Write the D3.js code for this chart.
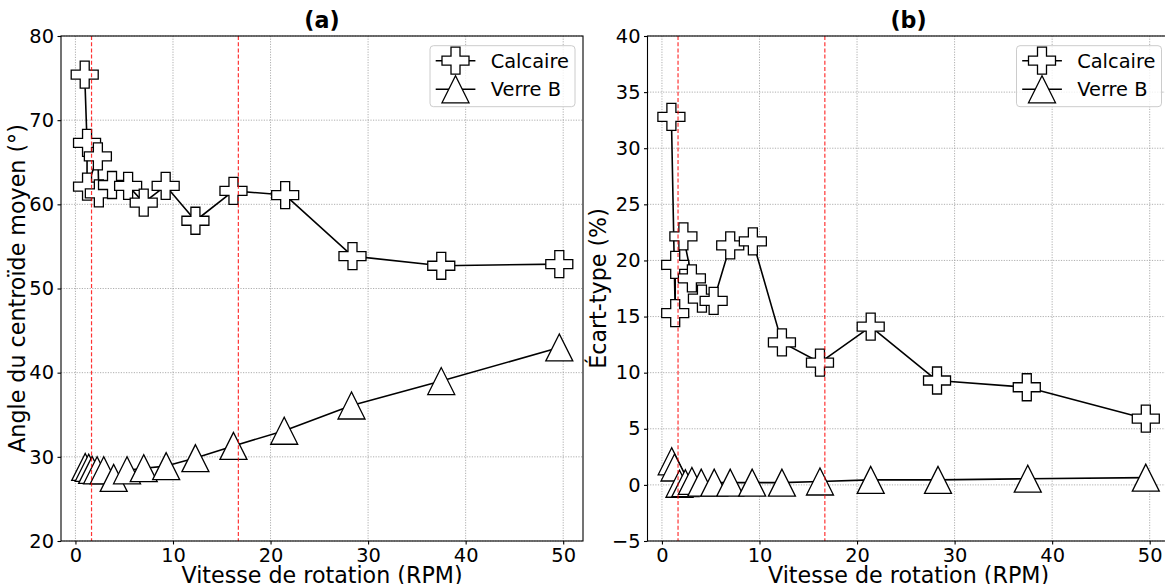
<!DOCTYPE html>
<html><head><meta charset="utf-8">
<script src="https://cdn.jsdelivr.net/npm/d3@7"></script>
<style>body{margin:0;background:#fff} svg{display:block} text{font-family:"DejaVu Sans",sans-serif;fill:#000}</style>
</head><body><svg id="c" width="1165" height="584"></svg>
<script>
// ---- data ----
const seriesNames = ["Calcaire", "Verre B"];
// panel (a): angle du centroïde moyen (°)
const rpmCalcaireA = [0.95, 1.19, 1.19, 2.3, 2.4, 3.75, 5.4, 7.0, 9.25, 12.3, 16.2, 21.5, 28.4, 37.5, 49.6];
const angleCalcaire = [75.4, 67.3, 62.1, 65.7, 61.3, 62.3, 62.2, 60.2, 62.2, 58.05, 61.6, 61.1, 53.85, 52.7, 52.9];
const rpmVerreA = [1.0, 1.36, 1.71, 2.22, 2.9, 3.92, 5.29, 7.0, 9.3, 12.3, 16.2, 21.4, 28.3, 37.5, 49.6];
const angleVerre = [28.8, 28.7, 28.45, 28.4, 28.4, 27.5, 28.4, 28.65, 28.9, 29.85, 31.3, 33.1, 36.1, 39.0, 43.0];
// panel (b): écart-type (%)
const rpmCalcaireB = [0.97, 1.36, 1.36, 2.2, 3.07, 4.1, 5.3, 7.0, 9.32, 12.3, 16.2, 21.4, 28.2, 37.4, 49.6];
const ecartCalcaire = [32.8, 15.3, 19.6, 22.15, 18.4, 16.6, 16.4, 21.35, 21.7, 12.7, 10.9, 14.1, 9.3, 8.7, 5.9];
const rpmVerreB = [1.0, 1.29, 1.8, 2.4, 3.07, 4.03, 5.36, 7.0, 9.25, 12.3, 16.2, 21.4, 28.3, 37.5, 49.6];
const ecartVerre = [2.1, 1.55, 0.1, 0.15, 0.35, 0.2, 0.2, 0.2, 0.2, 0.2, 0.3, 0.45, 0.45, 0.55, 0.65];
// ticks, reference lines
const xTicks = [0, 10, 20, 30, 40, 50];
const yTicksA = [20, 30, 40, 50, 60, 70, 80];
const yTicksB = [-5, 0, 5, 10, 15, 20, 25, 30, 35, 40];
const refLines = [1.65, 16.7];
const titles = ["(a)", "(b)"];
const xLabel = "Vitesse de rotation (RPM)";
const yLabels = ["Angle du centroïde moyen (°)", "Écart-type (%)"];

// ---- drawing ----
const svg = d3.select("#c");
const S = 27, h = S / 2, a = S / 6;
const crossPath = `M${-a},${-h}L${a},${-h}L${a},${-a}L${h},${-a}L${h},${a}L${a},${a}L${a},${h}L${-a},${h}L${-a},${a}L${-h},${a}L${-h},${-a}L${-a},${-a}Z`;
const triPath = `M0,${-h}L${-h},${h}L${h},${h}Z`;
const markers = [crossPath, triPath];
const TF = 19.4, LF = 22.2;

function panel(cfg) {
  const g = svg.append("g");
  const x = d3.scaleLinear().domain([-1.48, 52.03]).range([cfg.left, cfg.left + 522]);
  const y = d3.scaleLinear().domain(cfg.ydom).range([541, 36]);
  const [x0, x1] = x.range(), [y0, y1] = y.range();
  // grid
  g.append("g").selectAll("line").data(xTicks).join("line")
    .attr("x1", d => x(d)).attr("x2", d => x(d)).attr("y1", y1).attr("y2", y0)
    .attr("stroke", "#9a9a9a").attr("stroke-width", 0.8).attr("stroke-dasharray", "1.2,1.4");
  g.append("g").selectAll("line").data(cfg.yTicks).join("line")
    .attr("x1", x0).attr("x2", x1).attr("y1", d => y(d)).attr("y2", d => y(d))
    .attr("stroke", "#9a9a9a").attr("stroke-width", 0.8).attr("stroke-dasharray", "1.2,1.4");
  // series
  const clipId = "clip" + cfg.id;
  svg.append("clipPath").attr("id", clipId).append("rect")
    .attr("x", x0).attr("y", y1).attr("width", x1 - x0).attr("height", y0 - y1);
  const plot = g.append("g").attr("clip-path", `url(#${clipId})`);
  const line = d3.line().x(d => x(d[0])).y(d => y(d[1]));
  cfg.series.forEach((s, i) => {
    const pts = s.xs.map((v, k) => [v, s.ys[k]]);
    plot.append("path").attr("d", line(pts)).attr("fill", "none")
      .attr("stroke", "#000").attr("stroke-width", 1.6).attr("stroke-linejoin", "round");
    plot.append("g").selectAll("path").data(pts).join("path")
      .attr("d", markers[i]).attr("transform", d => `translate(${x(d[0])},${y(d[1])})`)
      .attr("fill", "#fff").attr("stroke", "#000").attr("stroke-width", 1.3).attr("stroke-linejoin", "miter");
  });
  // reference lines
  plot.append("g").selectAll("line").data(refLines).join("line")
    .attr("x1", d => x(d)).attr("x2", d => x(d)).attr("y1", y1).attr("y2", y0)
    .attr("stroke", "#ff0000").attr("stroke-opacity", 0.8).attr("stroke-width", 1.2)
    .attr("stroke-dasharray", "4,2.2");
  // spines
  g.append("rect").attr("x", x0).attr("y", y1).attr("width", x1 - x0).attr("height", y0 - y1)
    .attr("fill", "none").attr("stroke", "#000").attr("stroke-width", 1.1);
  // axes
  const ax = g.append("g").attr("transform", `translate(0,${y0})`)
    .call(d3.axisBottom(x).tickValues(xTicks).tickFormat(d3.format("d")).tickSize(3.5).tickSizeOuter(0).tickPadding(3.5));
  const ay = g.append("g").attr("transform", `translate(${x0},0)`)
    .call(d3.axisLeft(y).tickValues(cfg.yTicks).tickFormat(d3.format("d")).tickSize(3.5).tickSizeOuter(0).tickPadding(3.5));
  [ax, ay].forEach(A => {
    A.select(".domain").remove();
    A.selectAll("line").attr("stroke", "#000").attr("stroke-width", 1.1);
    A.selectAll("text").attr("font-size", TF).attr("font-family", "DejaVu Sans").attr("fill", "#000");
  });
  // labels
  g.append("text").attr("x", (x0 + x1) / 2).attr("y", 582.5).attr("text-anchor", "middle")
    .attr("font-size", LF).text(xLabel);
  g.append("text").attr("transform", `translate(${cfg.ylabX},${(y0 + y1) / 2}) rotate(-90)`)
    .attr("text-anchor", "middle").attr("font-size", LF).text(cfg.ylabel);
  g.append("text").attr("x", (x0 + x1) / 2).attr("y", 28).attr("text-anchor", "middle")
    .attr("font-size", LF).attr("font-weight", "bold").text(cfg.title);
  // legend
  const bw = 145, bh = 61, bx = x1 - 8 - bw, by = y1 + 9.7;
  const lg = g.append("g");
  lg.append("rect").attr("x", bx).attr("y", by).attr("width", bw).attr("height", bh)
    .attr("rx", 3.5).attr("fill", "#fff").attr("fill-opacity", 0.8).attr("stroke", "#cccccc").attr("stroke-width", 1);
  seriesNames.forEach((n, i) => {
    const ry = by + 15 + i * 28.6;
    lg.append("line").attr("x1", bx + 5.7).attr("x2", bx + 45.4).attr("y1", ry).attr("y2", ry)
      .attr("stroke", "#000").attr("stroke-width", 1.6);
    lg.append("path").attr("d", markers[i]).attr("transform", `translate(${bx + 25.5},${ry})`)
      .attr("fill", "#fff").attr("stroke", "#000").attr("stroke-width", 1.3);
    lg.append("text").attr("x", bx + 60.7).attr("y", ry).attr("dy", "0.36em")
      .attr("font-size", TF).text(n);
  });
}

panel({id: "a", left: 61, ydom: [20, 80], yTicks: yTicksA, title: titles[0], ylabel: yLabels[0], ylabX: 25,
  series: [{xs: rpmCalcaireA, ys: angleCalcaire}, {xs: rpmVerreA, ys: angleVerre}]});
panel({id: "b", left: 647.5, ydom: [-5, 40], yTicks: yTicksB, title: titles[1], ylabel: yLabels[1], ylabX: 606,
  series: [{xs: rpmCalcaireB, ys: ecartCalcaire}, {xs: rpmVerreB, ys: ecartVerre}]});
</script>
</body></html>
